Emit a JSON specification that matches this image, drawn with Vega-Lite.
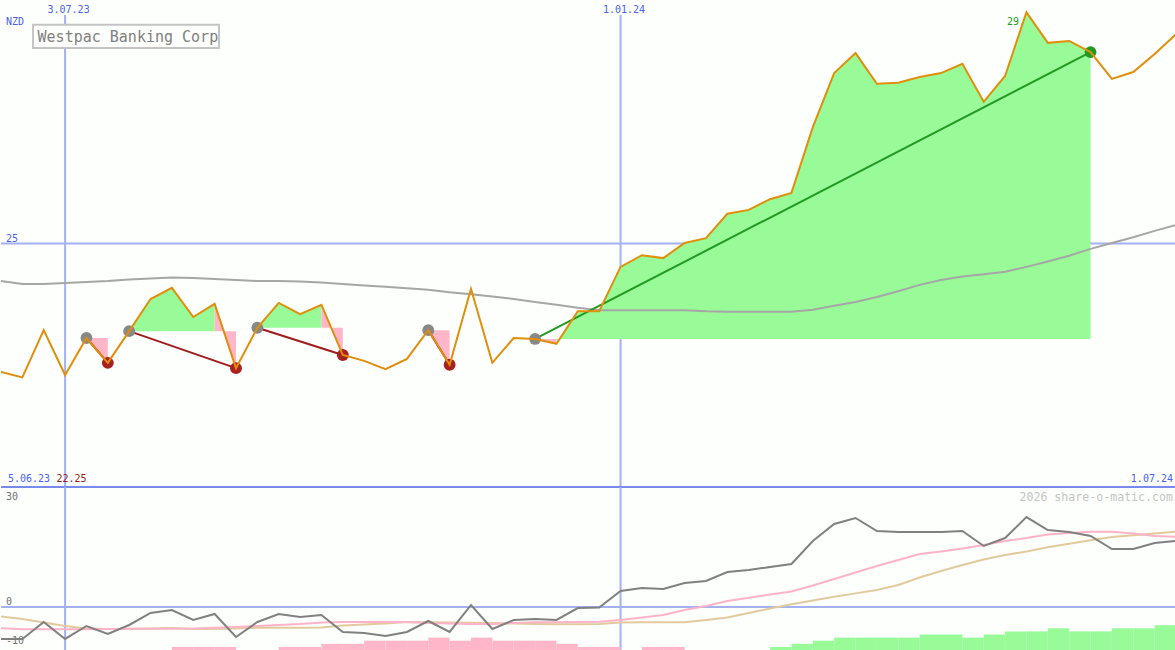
{
 "$schema": "https://vega.github.io/schema/vega-lite/v6.json",
 "background": "#fcfffc",
 "padding": 0,
 "spacing": 0,
 "bounds": "flush",
 "config": {"view": {"stroke": null}, "text": {"font": "DejaVu Sans Mono", "fontSize": 10}},
 "datasets": {
  "wk": [
   {"d":"2023-06-12","p":22.36,"ma":24.23,"m":-9.14,"s1":-6.09,"s2":-2.71},
   {"d":"2023-06-19","p":22.25,"ma":24.17,"m":-9.14,"s1":-6.37,"s2":-3.43},
   {"d":"2023-06-26","p":23.22,"ma":24.17,"m":-4.29,"s1":-6.37,"s2":-4.43},
   {"d":"2023-07-03","p":22.30,"ma":24.19,"m":-9.14,"s1":-6.37,"s2":-5.43},
   {"d":"2023-07-10","p":23.06,"ma":24.21,"m":-5.43,"s1":-6.37,"s2":-6.14},
   {"d":"2023-07-17","p":22.55,"ma":24.23,"m":-7.71,"s1":-6.29,"s2":-6.29},
   {"d":"2023-07-24","p":23.20,"ma":24.26,"m":-5.14,"s1":-6.20,"s2":-6.29},
   {"d":"2023-07-31","p":23.86,"ma":24.28,"m":-1.71,"s1":-6.20,"s2":-6.14},
   {"d":"2023-08-07","p":24.09,"ma":24.30,"m":-0.86,"s1":-6.20,"s2":-6.00},
   {"d":"2023-08-14","p":23.49,"ma":24.29,"m":-3.71,"s1":-6.14,"s2":-6.29},
   {"d":"2023-08-21","p":23.76,"ma":24.27,"m":-2.00,"s1":-5.91,"s2":-6.29},
   {"d":"2023-08-28","p":22.44,"ma":24.25,"m":-8.57,"s1":-5.71,"s2":-6.14},
   {"d":"2023-09-04","p":23.27,"ma":24.23,"m":-4.29,"s1":-5.43,"s2":-5.91},
   {"d":"2023-09-11","p":23.78,"ma":24.23,"m":-2.00,"s1":-5.14,"s2":-5.91},
   {"d":"2023-09-18","p":23.55,"ma":24.22,"m":-2.86,"s1":-4.86,"s2":-5.91},
   {"d":"2023-09-25","p":23.74,"ma":24.20,"m":-2.29,"s1":-4.43,"s2":-5.86},
   {"d":"2023-10-02","p":22.71,"ma":24.17,"m":-7.14,"s1":-4.29,"s2":-5.29},
   {"d":"2023-10-09","p":22.59,"ma":24.14,"m":-7.43,"s1":-4.29,"s2":-5.00},
   {"d":"2023-10-16","p":22.42,"ma":24.11,"m":-8.29,"s1":-4.29,"s2":-4.71},
   {"d":"2023-10-23","p":22.63,"ma":24.08,"m":-7.14,"s1":-4.29,"s2":-4.29},
   {"d":"2023-10-30","p":23.22,"ma":24.05,"m":-4.00,"s1":-4.57,"s2":-4.37},
   {"d":"2023-11-06","p":22.51,"ma":24.00,"m":-7.14,"s1":-4.71,"s2":-4.43},
   {"d":"2023-11-13","p":24.07,"ma":23.96,"m":0.57,"s1":-4.86,"s2":-4.49},
   {"d":"2023-11-20","p":22.55,"ma":23.91,"m":-6.29,"s1":-4.86,"s2":-4.57},
   {"d":"2023-11-27","p":23.06,"ma":23.86,"m":-3.71,"s1":-4.57,"s2":-4.71},
   {"d":"2023-12-04","p":23.04,"ma":23.80,"m":-3.43,"s1":-4.37,"s2":-4.86},
   {"d":"2023-12-11","p":22.94,"ma":23.74,"m":-3.71,"s1":-4.37,"s2":-4.94},
   {"d":"2023-12-18","p":23.61,"ma":23.68,"m":-0.29,"s1":-4.29,"s2":-4.94},
   {"d":"2023-12-25","p":23.61,"ma":23.63,"m":-0.14,"s1":-4.20,"s2":-4.86},
   {"d":"2024-01-01","p":24.52,"ma":23.63,"m":4.57,"s1":-3.71,"s2":-4.43},
   {"d":"2024-01-08","p":24.76,"ma":23.63,"m":5.43,"s1":-3.00,"s2":-4.37},
   {"d":"2024-01-15","p":24.70,"ma":23.63,"m":5.14,"s1":-2.29,"s2":-4.37},
   {"d":"2024-01-22","p":25.01,"ma":23.63,"m":6.86,"s1":-0.86,"s2":-4.37},
   {"d":"2024-01-29","p":25.11,"ma":23.61,"m":7.43,"s1":0.31,"s2":-3.71},
   {"d":"2024-02-05","p":25.61,"ma":23.60,"m":10.00,"s1":1.71,"s2":-3.00},
   {"d":"2024-02-12","p":25.69,"ma":23.60,"m":10.57,"s1":2.66,"s2":-1.71},
   {"d":"2024-02-19","p":25.91,"ma":23.60,"m":11.43,"s1":3.57,"s2":-0.43},
   {"d":"2024-02-26","p":26.04,"ma":23.60,"m":12.29,"s1":4.43,"s2":0.80},
   {"d":"2024-03-04","p":27.39,"ma":23.64,"m":18.86,"s1":6.14,"s2":1.86},
   {"d":"2024-03-11","p":28.50,"ma":23.72,"m":23.71,"s1":8.00,"s2":2.94},
   {"d":"2024-03-18","p":28.91,"ma":23.80,"m":25.43,"s1":9.86,"s2":3.89},
   {"d":"2024-03-25","p":28.28,"ma":23.90,"m":21.71,"s1":11.71,"s2":4.86},
   {"d":"2024-04-01","p":28.30,"ma":24.02,"m":21.43,"s1":13.43,"s2":6.29},
   {"d":"2024-04-08","p":28.42,"ma":24.15,"m":21.43,"s1":15.14,"s2":8.43},
   {"d":"2024-04-15","p":28.50,"ma":24.25,"m":21.43,"s1":15.86,"s2":10.29},
   {"d":"2024-04-22","p":28.69,"ma":24.32,"m":21.71,"s1":16.71,"s2":12.00},
   {"d":"2024-04-29","p":27.91,"ma":24.37,"m":17.43,"s1":17.71,"s2":13.57},
   {"d":"2024-05-06","p":28.44,"ma":24.42,"m":19.71,"s1":18.86,"s2":14.86},
   {"d":"2024-05-13","p":29.75,"ma":24.52,"m":25.71,"s1":19.71,"s2":15.86},
   {"d":"2024-05-20","p":29.12,"ma":24.63,"m":22.00,"s1":20.71,"s2":17.06},
   {"d":"2024-05-27","p":29.16,"ma":24.75,"m":21.43,"s1":21.14,"s2":18.09},
   {"d":"2024-06-03","p":28.93,"ma":24.89,"m":20.29,"s1":21.51,"s2":19.06},
   {"d":"2024-06-10","p":28.38,"ma":25.01,"m":16.57,"s1":21.51,"s2":20.00},
   {"d":"2024-06-17","p":28.52,"ma":25.13,"m":16.57,"s1":21.00,"s2":20.49},
   {"d":"2024-06-24","p":28.89,"ma":25.26,"m":18.29,"s1":20.29,"s2":21.00},
   {"d":"2024-07-01","p":29.30,"ma":25.38,"m":18.86,"s1":20.09,"s2":21.51}
  ],
  "fills": [
   {"s":"A","k":"loss","b":23.06,"d":"2023-07-10","p":23.06},
   {"s":"A","k":"loss","b":23.06,"d":"2023-07-17","p":22.55},
   {"s":"B","k":"gain","b":23.20,"d":"2023-07-24","p":23.20},
   {"s":"B","k":"gain","b":23.20,"d":"2023-07-31","p":23.86},
   {"s":"B","k":"gain","b":23.20,"d":"2023-08-07","p":24.09},
   {"s":"B","k":"gain","b":23.20,"d":"2023-08-14","p":23.49},
   {"s":"B","k":"gain","b":23.20,"d":"2023-08-21","p":23.76},
   {"s":"C","k":"loss","b":23.20,"d":"2023-08-21","p":23.76},
   {"s":"C","k":"loss","b":23.20,"d":"2023-08-28","p":22.44},
   {"s":"D","k":"gain","b":23.27,"d":"2023-09-04","p":23.27},
   {"s":"D","k":"gain","b":23.27,"d":"2023-09-11","p":23.78},
   {"s":"D","k":"gain","b":23.27,"d":"2023-09-18","p":23.55},
   {"s":"D","k":"gain","b":23.27,"d":"2023-09-25","p":23.74},
   {"s":"E","k":"loss","b":23.27,"d":"2023-09-25","p":23.74},
   {"s":"E","k":"loss","b":23.27,"d":"2023-10-02","p":22.71},
   {"s":"F","k":"loss","b":23.22,"d":"2023-10-30","p":23.22},
   {"s":"F","k":"loss","b":23.22,"d":"2023-11-06","p":22.51},
   {"s":"G","k":"loss","b":23.04,"d":"2023-12-04","p":23.04},
   {"s":"G","k":"loss","b":23.04,"d":"2023-12-11","p":22.94},
   {"s":"H","k":"gain","b":23.04,"d":"2023-12-11","p":22.94},
   {"s":"H","k":"gain","b":23.04,"d":"2023-12-18","p":23.61},
   {"s":"H","k":"gain","b":23.04,"d":"2023-12-25","p":23.61},
   {"s":"H","k":"gain","b":23.04,"d":"2024-01-01","p":24.52},
   {"s":"H","k":"gain","b":23.04,"d":"2024-01-08","p":24.76},
   {"s":"H","k":"gain","b":23.04,"d":"2024-01-15","p":24.70},
   {"s":"H","k":"gain","b":23.04,"d":"2024-01-22","p":25.01},
   {"s":"H","k":"gain","b":23.04,"d":"2024-01-29","p":25.11},
   {"s":"H","k":"gain","b":23.04,"d":"2024-02-05","p":25.61},
   {"s":"H","k":"gain","b":23.04,"d":"2024-02-12","p":25.69},
   {"s":"H","k":"gain","b":23.04,"d":"2024-02-19","p":25.91},
   {"s":"H","k":"gain","b":23.04,"d":"2024-02-26","p":26.04},
   {"s":"H","k":"gain","b":23.04,"d":"2024-03-04","p":27.39},
   {"s":"H","k":"gain","b":23.04,"d":"2024-03-11","p":28.50},
   {"s":"H","k":"gain","b":23.04,"d":"2024-03-18","p":28.91},
   {"s":"H","k":"gain","b":23.04,"d":"2024-03-25","p":28.28},
   {"s":"H","k":"gain","b":23.04,"d":"2024-04-01","p":28.30},
   {"s":"H","k":"gain","b":23.04,"d":"2024-04-08","p":28.42},
   {"s":"H","k":"gain","b":23.04,"d":"2024-04-15","p":28.50},
   {"s":"H","k":"gain","b":23.04,"d":"2024-04-22","p":28.69},
   {"s":"H","k":"gain","b":23.04,"d":"2024-04-29","p":27.91},
   {"s":"H","k":"gain","b":23.04,"d":"2024-05-06","p":28.44},
   {"s":"H","k":"gain","b":23.04,"d":"2024-05-13","p":29.75},
   {"s":"H","k":"gain","b":23.04,"d":"2024-05-20","p":29.12},
   {"s":"H","k":"gain","b":23.04,"d":"2024-05-27","p":29.16},
   {"s":"H","k":"gain","b":23.04,"d":"2024-06-03","p":28.93}
  ],
  "trades": [
   {"t":1,"k":"loss","m":"entry","d":"2023-07-10","p":23.06},
   {"t":1,"k":"loss","m":"loss","d":"2023-07-17","p":22.55},
   {"t":2,"k":"loss","m":"entry","d":"2023-07-24","p":23.20},
   {"t":2,"k":"loss","m":"loss","d":"2023-08-28","p":22.44},
   {"t":3,"k":"loss","m":"entry","d":"2023-09-04","p":23.27},
   {"t":3,"k":"loss","m":"loss","d":"2023-10-02","p":22.71},
   {"t":4,"k":"loss","m":"entry","d":"2023-10-30","p":23.22},
   {"t":4,"k":"loss","m":"loss","d":"2023-11-06","p":22.51},
   {"t":5,"k":"win","m":"entry","d":"2023-12-04","p":23.04},
   {"t":5,"k":"win","m":"win","d":"2024-06-03","p":28.93}
  ],
  "bars": [
   {"d":"2023-08-07","d2":"2023-08-14","h":1,"k":"neg"},
   {"d":"2023-08-14","d2":"2023-08-21","h":1,"k":"neg"},
   {"d":"2023-08-21","d2":"2023-08-28","h":1,"k":"neg"},
   {"d":"2023-09-11","d2":"2023-09-18","h":1,"k":"neg"},
   {"d":"2023-09-18","d2":"2023-09-25","h":1,"k":"neg"},
   {"d":"2023-09-25","d2":"2023-10-02","h":2,"k":"neg"},
   {"d":"2023-10-02","d2":"2023-10-09","h":2,"k":"neg"},
   {"d":"2023-10-09","d2":"2023-10-16","h":3,"k":"neg"},
   {"d":"2023-10-16","d2":"2023-10-23","h":3,"k":"neg"},
   {"d":"2023-10-23","d2":"2023-10-30","h":3,"k":"neg"},
   {"d":"2023-10-30","d2":"2023-11-06","h":4,"k":"neg"},
   {"d":"2023-11-06","d2":"2023-11-13","h":3,"k":"neg"},
   {"d":"2023-11-13","d2":"2023-11-20","h":4,"k":"neg"},
   {"d":"2023-11-20","d2":"2023-11-27","h":3,"k":"neg"},
   {"d":"2023-11-27","d2":"2023-12-04","h":3,"k":"neg"},
   {"d":"2023-12-04","d2":"2023-12-11","h":3,"k":"neg"},
   {"d":"2023-12-11","d2":"2023-12-18","h":2,"k":"neg"},
   {"d":"2023-12-18","d2":"2023-12-25","h":1,"k":"neg"},
   {"d":"2023-12-25","d2":"2024-01-01","h":1,"k":"neg"},
   {"d":"2024-01-08","d2":"2024-01-15","h":1,"k":"neg"},
   {"d":"2024-01-15","d2":"2024-01-22","h":1,"k":"neg"},
   {"d":"2024-02-19","d2":"2024-02-26","h":1,"k":"pos"},
   {"d":"2024-02-26","d2":"2024-03-04","h":2,"k":"pos"},
   {"d":"2024-03-04","d2":"2024-03-11","h":3,"k":"pos"},
   {"d":"2024-03-11","d2":"2024-03-18","h":4,"k":"pos"},
   {"d":"2024-03-18","d2":"2024-03-25","h":4,"k":"pos"},
   {"d":"2024-03-25","d2":"2024-04-01","h":4,"k":"pos"},
   {"d":"2024-04-01","d2":"2024-04-08","h":4,"k":"pos"},
   {"d":"2024-04-08","d2":"2024-04-15","h":5,"k":"pos"},
   {"d":"2024-04-15","d2":"2024-04-22","h":5,"k":"pos"},
   {"d":"2024-04-22","d2":"2024-04-29","h":4,"k":"pos"},
   {"d":"2024-04-29","d2":"2024-05-06","h":5,"k":"pos"},
   {"d":"2024-05-06","d2":"2024-05-13","h":6,"k":"pos"},
   {"d":"2024-05-13","d2":"2024-05-20","h":6,"k":"pos"},
   {"d":"2024-05-20","d2":"2024-05-27","h":7,"k":"pos"},
   {"d":"2024-05-27","d2":"2024-06-03","h":6,"k":"pos"},
   {"d":"2024-06-03","d2":"2024-06-10","h":6,"k":"pos"},
   {"d":"2024-06-10","d2":"2024-06-17","h":7,"k":"pos"},
   {"d":"2024-06-17","d2":"2024-06-24","h":7,"k":"pos"},
   {"d":"2024-06-24","d2":"2024-07-01","h":8,"k":"pos"}
  ],
  "grid": [
   {"d":"2023-07-03","t":"3.07.23"},
   {"d":"2024-01-01","t":"1.01.24"}
  ]
 },
 "vconcat": [
  {
   "width": 1175,
   "height": 487,
   "layer": [
    {
     "data": {"values": [{}]},
     "mark": {"type": "rule", "color": "#a3b0f2", "strokeWidth": 2},
     "encoding": {
      "y": {"datum": 25, "type": "quantitative", "scale": {"domain": [20, 30], "nice": false, "zero": false}, "axis": null}
     }
    },
    {
     "data": {"name": "grid"},
     "mark": {"type": "rule", "color": "#a3b0f2", "strokeWidth": 2},
     "encoding": {
      "x": {"field": "d", "type": "temporal", "scale": {"type": "utc", "domain": [{"year": 2023, "month": 6, "date": 12, "utc": true}, {"year": 2024, "month": 7, "date": 1, "utc": true}]}, "axis": null},
      "y": {"datum": 29.69, "type": "quantitative"},
      "y2": {"datum": 20}
     }
    },
    {
     "data": {"name": "grid"},
     "mark": {"type": "text", "color": "#4d5ff0", "align": "center", "baseline": "alphabetic", "dx": 3.5, "dy": 13},
     "encoding": {
      "x": {"field": "d", "type": "temporal"},
      "y": {"datum": 30, "type": "quantitative"},
      "text": {"field": "t"}
     }
    },
    {
     "data": {"values": [{"t": "NZD"}]},
     "mark": {"type": "text", "color": "#4d5ff0", "align": "left", "baseline": "alphabetic", "dx": 5, "dy": 25},
     "encoding": {
      "x": {"datum": {"year": 2023, "month": 6, "date": 12, "utc": true}, "type": "temporal"},
      "y": {"datum": 30, "type": "quantitative"},
      "text": {"field": "t"}
     }
    },
    {
     "data": {"values": [{"t": "25"}]},
     "mark": {"type": "text", "color": "#4d5ff0", "align": "left", "baseline": "alphabetic", "dx": 5, "dy": -2},
     "encoding": {
      "x": {"datum": {"year": 2023, "month": 6, "date": 12, "utc": true}, "type": "temporal"},
      "y": {"datum": 25, "type": "quantitative"},
      "text": {"field": "t"}
     }
    },
    {
     "data": {"values": [{"t": "5.06.23"}]},
     "mark": {"type": "text", "color": "#4d5ff0", "align": "left", "baseline": "alphabetic", "dx": 7, "dy": -5},
     "encoding": {
      "x": {"datum": {"year": 2023, "month": 6, "date": 12, "utc": true}, "type": "temporal"},
      "y": {"datum": 20, "type": "quantitative"},
      "text": {"field": "t"}
     }
    },
    {
     "data": {"values": [{"t": "22.25"}]},
     "mark": {"type": "text", "color": "#a01818", "align": "left", "baseline": "alphabetic", "dx": 55.5, "dy": -5},
     "encoding": {
      "x": {"datum": {"year": 2023, "month": 6, "date": 12, "utc": true}, "type": "temporal"},
      "y": {"datum": 20, "type": "quantitative"},
      "text": {"field": "t"}
     }
    },
    {
     "data": {"values": [{"t": "1.07.24"}]},
     "mark": {"type": "text", "color": "#4d5ff0", "align": "right", "baseline": "alphabetic", "dx": -3, "dy": -5},
     "encoding": {
      "x": {"datum": {"year": 2024, "month": 7, "date": 1, "utc": true}, "type": "temporal"},
      "y": {"datum": 20, "type": "quantitative"},
      "text": {"field": "t"}
     }
    },
    {
     "data": {"values": [{"name": "Westpac Banking Corp"}]},
     "mark": {"type": "rect", "fill": "#fcfffc", "stroke": "#c4c4c4", "strokeWidth": 2},
     "encoding": {
      "x": {"datum": {"year": 2023, "month": 6, "date": 22, "hours": 12, "utc": true}, "type": "temporal"},
      "x2": {"datum": {"year": 2023, "month": 8, "date": 22, "hours": 10, "utc": true}},
      "y": {"datum": 29.49, "type": "quantitative"},
      "y2": {"datum": 29.015}
     }
    },
    {
     "data": {"values": [{"name": "Westpac Banking Corp"}]},
     "mark": {"type": "text", "color": "#808080", "fontSize": 15, "align": "left", "baseline": "alphabetic", "dx": 4.5, "dy": 17},
     "encoding": {
      "x": {"datum": {"year": 2023, "month": 6, "date": 22, "hours": 12, "utc": true}, "type": "temporal"},
      "y": {"datum": 29.49, "type": "quantitative"},
      "text": {"field": "name"}
     }
    },
    {
     "data": {"values": [{"d": "2024-05-13", "p": 29.75, "t": "29.7"}]},
     "mark": {"type": "text", "color": "#22a022", "align": "left", "baseline": "alphabetic", "dx": -19.5, "dy": 12.5},
     "encoding": {
      "x": {"field": "d", "type": "temporal"},
      "y": {"field": "p", "type": "quantitative"},
      "text": {"field": "t"}
     }
    },
    {
     "data": {"name": "fills"},
     "mark": {"type": "area", "opacity": 1},
     "encoding": {
      "x": {"field": "d", "type": "temporal"},
      "y": {"field": "p", "type": "quantitative", "stack": null},
      "y2": {"field": "b"},
      "detail": {"field": "s"},
      "color": {"field": "k", "type": "nominal", "scale": {"domain": ["gain", "loss"], "range": ["#98fb98", "#ffb6c8"]}, "legend": null}
     }
    },
    {
     "data": {"name": "wk"},
     "mark": {"type": "line", "color": "#a6a6a6", "strokeWidth": 2, "clip": true},
     "encoding": {
      "x": {"field": "d", "type": "temporal"},
      "y": {"field": "ma", "type": "quantitative"}
     }
    },
    {
     "data": {"name": "trades"},
     "mark": {"type": "line", "strokeWidth": 2},
     "encoding": {
      "x": {"field": "d", "type": "temporal"},
      "y": {"field": "p", "type": "quantitative"},
      "detail": {"field": "t"},
      "color": {"field": "k", "type": "nominal", "scale": {"domain": ["loss", "win"], "range": ["#a01c1c", "#229922"]}, "legend": null}
     }
    },
    {
     "data": {"name": "trades"},
     "mark": {"type": "point", "filled": true, "opacity": 1, "size": 140},
     "encoding": {
      "x": {"field": "d", "type": "temporal"},
      "y": {"field": "p", "type": "quantitative"},
      "fill": {"field": "m", "type": "nominal", "scale": {"domain": ["entry", "loss", "win"], "range": ["#888888", "#a82020", "#229922"]}, "legend": null}
     }
    },
    {
     "data": {"name": "wk"},
     "mark": {"type": "line", "color": "#e08e0b", "strokeWidth": 2, "clip": true},
     "encoding": {
      "x": {"field": "d", "type": "temporal"},
      "y": {"field": "p", "type": "quantitative"}
     }
    },
    {
     "data": {"values": [{}]},
     "mark": {"type": "rule", "color": "#7a89ee", "strokeWidth": 2},
     "encoding": {"y": {"datum": 20, "type": "quantitative"}}
    }
   ],
   "resolve": {"scale": {"color": "independent"}}
  },
  {
   "width": 1175,
   "height": 163,
   "layer": [
    {
     "data": {"values": [{}]},
     "mark": {"type": "rule", "color": "#a3b0f2", "strokeWidth": 2},
     "encoding": {
      "y": {"datum": 0, "type": "quantitative", "scale": {"domain": [-12.29, 34.29], "nice": false, "zero": false}, "axis": null}
     }
    },
    {
     "data": {"name": "grid"},
     "mark": {"type": "rule", "color": "#a3b0f2", "strokeWidth": 2},
     "encoding": {
      "x": {"field": "d", "type": "temporal", "scale": {"type": "utc", "domain": [{"year": 2023, "month": 6, "date": 12, "utc": true}, {"year": 2024, "month": 7, "date": 1, "utc": true}]}, "axis": null}
     }
    },
    {
     "data": {"values": [{"v": 30, "t": "30"}, {"v": 0, "t": "0"}]},
     "mark": {"type": "text", "color": "#707070", "align": "left", "baseline": "alphabetic", "dx": 5, "dy": -2},
     "encoding": {
      "x": {"datum": {"year": 2023, "month": 6, "date": 12, "utc": true}, "type": "temporal"},
      "y": {"field": "v", "type": "quantitative", "scale": {"domain": [-12.29, 34.29], "nice": false, "zero": false}, "axis": null},
      "text": {"field": "t"}
     }
    },
    {
     "data": {"values": [{"v": -10, "t": "-10"}]},
     "mark": {"type": "text", "color": "#707070", "align": "left", "baseline": "alphabetic", "dx": 5, "dy": 2},
     "encoding": {
      "x": {"datum": {"year": 2023, "month": 6, "date": 12, "utc": true}, "type": "temporal"},
      "y": {"field": "v", "type": "quantitative", "scale": {"domain": [-12.29, 34.29], "nice": false, "zero": false}, "axis": null},
      "text": {"field": "t"}
     }
    },
    {
     "data": {"values": [{"t": "2026 share-o-matic.com"}]},
     "mark": {"type": "text", "color": "#c4c4c4", "fontSize": 11.6, "align": "right", "baseline": "alphabetic", "dx": -3, "dy": -1},
     "encoding": {
      "x": {"datum": {"year": 2024, "month": 7, "date": 1, "utc": true}, "type": "temporal"},
      "y": {"datum": 30, "type": "quantitative", "scale": {"domain": [-12.29, 34.29], "nice": false, "zero": false}, "axis": null},
      "text": {"field": "t"}
     }
    },
    {
     "data": {"name": "bars"},
     "mark": {"type": "rect"},
     "encoding": {
      "x": {"field": "d", "type": "temporal"},
      "x2": {"field": "d2"},
      "y": {"field": "h", "type": "quantitative", "scale": {"domain": [0, 52.58], "nice": false, "zero": false}, "axis": null},
      "y2": {"datum": 0},
      "color": {"field": "k", "type": "nominal", "scale": {"domain": ["neg", "pos"], "range": ["#ffb6c8", "#98fb98"]}, "legend": null}
     }
    },
    {
     "data": {"name": "wk"},
     "mark": {"type": "line", "color": "#e2ca9e", "strokeWidth": 2, "clip": true},
     "encoding": {
      "x": {"field": "d", "type": "temporal"},
      "y": {"field": "s2", "type": "quantitative", "scale": {"domain": [-12.29, 34.29], "nice": false, "zero": false}, "axis": null}
     }
    },
    {
     "data": {"name": "wk"},
     "mark": {"type": "line", "color": "#ffb3c8", "strokeWidth": 2, "clip": true},
     "encoding": {
      "x": {"field": "d", "type": "temporal"},
      "y": {"field": "s1", "type": "quantitative", "scale": {"domain": [-12.29, 34.29], "nice": false, "zero": false}, "axis": null}
     }
    },
    {
     "data": {"name": "wk"},
     "mark": {"type": "line", "color": "#808080", "strokeWidth": 2, "clip": true},
     "encoding": {
      "x": {"field": "d", "type": "temporal"},
      "y": {"field": "m", "type": "quantitative", "scale": {"domain": [-12.29, 34.29], "nice": false, "zero": false}, "axis": null}
     }
    }
   ],
   "resolve": {"scale": {"y": "independent"}}
  }
 ]
}
